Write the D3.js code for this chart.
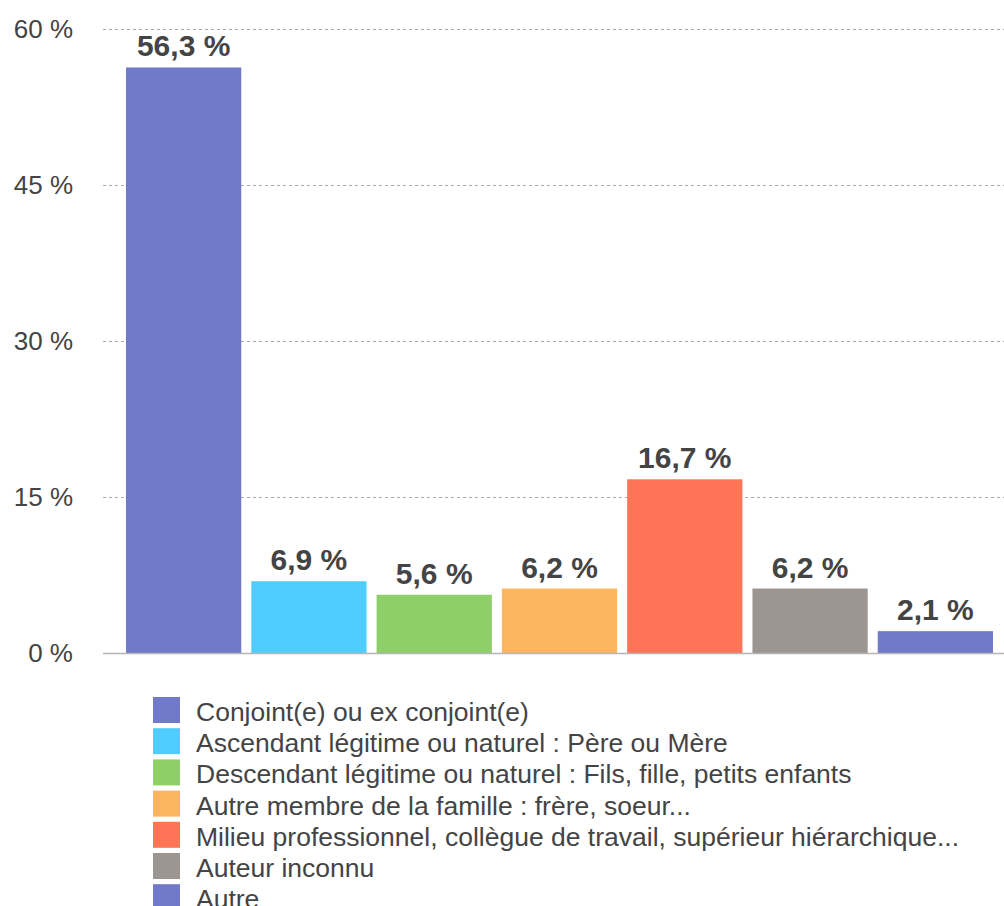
<!DOCTYPE html>
<html>
<head>
<meta charset="utf-8">
<script src="https://cdn.jsdelivr.net/npm/d3@7"></script>
<style>
  body { margin: 0; background: #fff; }
  text { font-family: "Liberation Sans", Arial, sans-serif; }
</style>
</head>
<body>
<div id="chart"></div>
<script>
// data
const categories = ["Conjoint(e) ou ex conjoint(e)",
  "Ascendant légitime ou naturel : Père ou Mère",
  "Descendant légitime ou naturel : Fils, fille, petits enfants",
  "Autre membre de la famille : frère, soeur...",
  "Milieu professionnel, collègue de travail, supérieur hiérarchique...",
  "Auteur inconnu",
  "Autre"];
const values = [56.3, 6.9, 5.6, 6.2, 16.7, 6.2, 2.1];
const colors = ["#7179c9", "#4fcefd", "#8ecf6a", "#fdb65f", "#fd7456", "#9c9692", "#7179c9"];
const yTicks = [0, 15, 30, 45, 60];

const width = 1004, height = 906;
const svg = d3.select("#chart").append("svg").attr("width", width).attr("height", height);

const x = d3.scaleBand().domain(categories).range([121, 998]).paddingInner(0.08).paddingOuter(0.04);
const y = d3.scaleLinear().domain([0, 60]).range([653, 29]);

const fmt = v => d3.format(".1f")(v).replace(".", ",") + " %";

// gridlines
svg.append("g").selectAll("line")
  .data(yTicks.filter(d => d > 0))
  .join("line")
  .attr("x1", 103).attr("x2", 1004)
  .attr("y1", d => y(d) + 0.5).attr("y2", d => y(d) + 0.5)
  .attr("stroke", "#aaa").attr("stroke-dasharray", "3,3").attr("stroke-width", 1);

// y axis labels
const yAxis = d3.axisLeft(y).tickValues(yTicks).tickSize(0).tickPadding(0).tickFormat(d => d + " %");
svg.append("g").attr("transform", "translate(73,0)").call(yAxis)
  .call(g => g.select(".domain").remove())
  .call(g => g.selectAll("text").attr("font-size", 26).attr("fill", "#444").attr("font-family", "Liberation Sans, Arial, sans-serif"));

// bars
svg.append("g").selectAll("rect")
  .data(values)
  .join("rect")
  .attr("x", (d, i) => x(categories[i]))
  .attr("y", d => y(d))
  .attr("width", x.bandwidth())
  .attr("height", d => y(0) - y(d))
  .attr("fill", (d, i) => colors[i]);

// baseline
svg.append("line").attr("x1", 103).attr("x2", 1004).attr("y1", 653.5).attr("y2", 653.5)
  .attr("stroke", "#b5b5b5").attr("stroke-width", 1.5);

// value labels
svg.append("g").selectAll("text")
  .data(values)
  .join("text")
  .attr("x", (d, i) => x(categories[i]) + x.bandwidth() / 2)
  .attr("y", d => y(d) - 11)
  .attr("text-anchor", "middle")
  .attr("font-size", 30)
  .attr("font-weight", "bold")
  .attr("fill", "#444")
  .text(fmt);

// legend
const legend = svg.append("g").selectAll("g")
  .data(categories)
  .join("g")
  .attr("transform", (d, i) => `translate(153,${697 + i * 31.2})`);
legend.append("rect").attr("width", 27).attr("height", 26).attr("fill", (d, i) => colors[i]);
legend.append("text").attr("x", 43).attr("y", 24).attr("font-size", 26.5).attr("fill", "#444").text(d => d);
</script>
</body>
</html>
